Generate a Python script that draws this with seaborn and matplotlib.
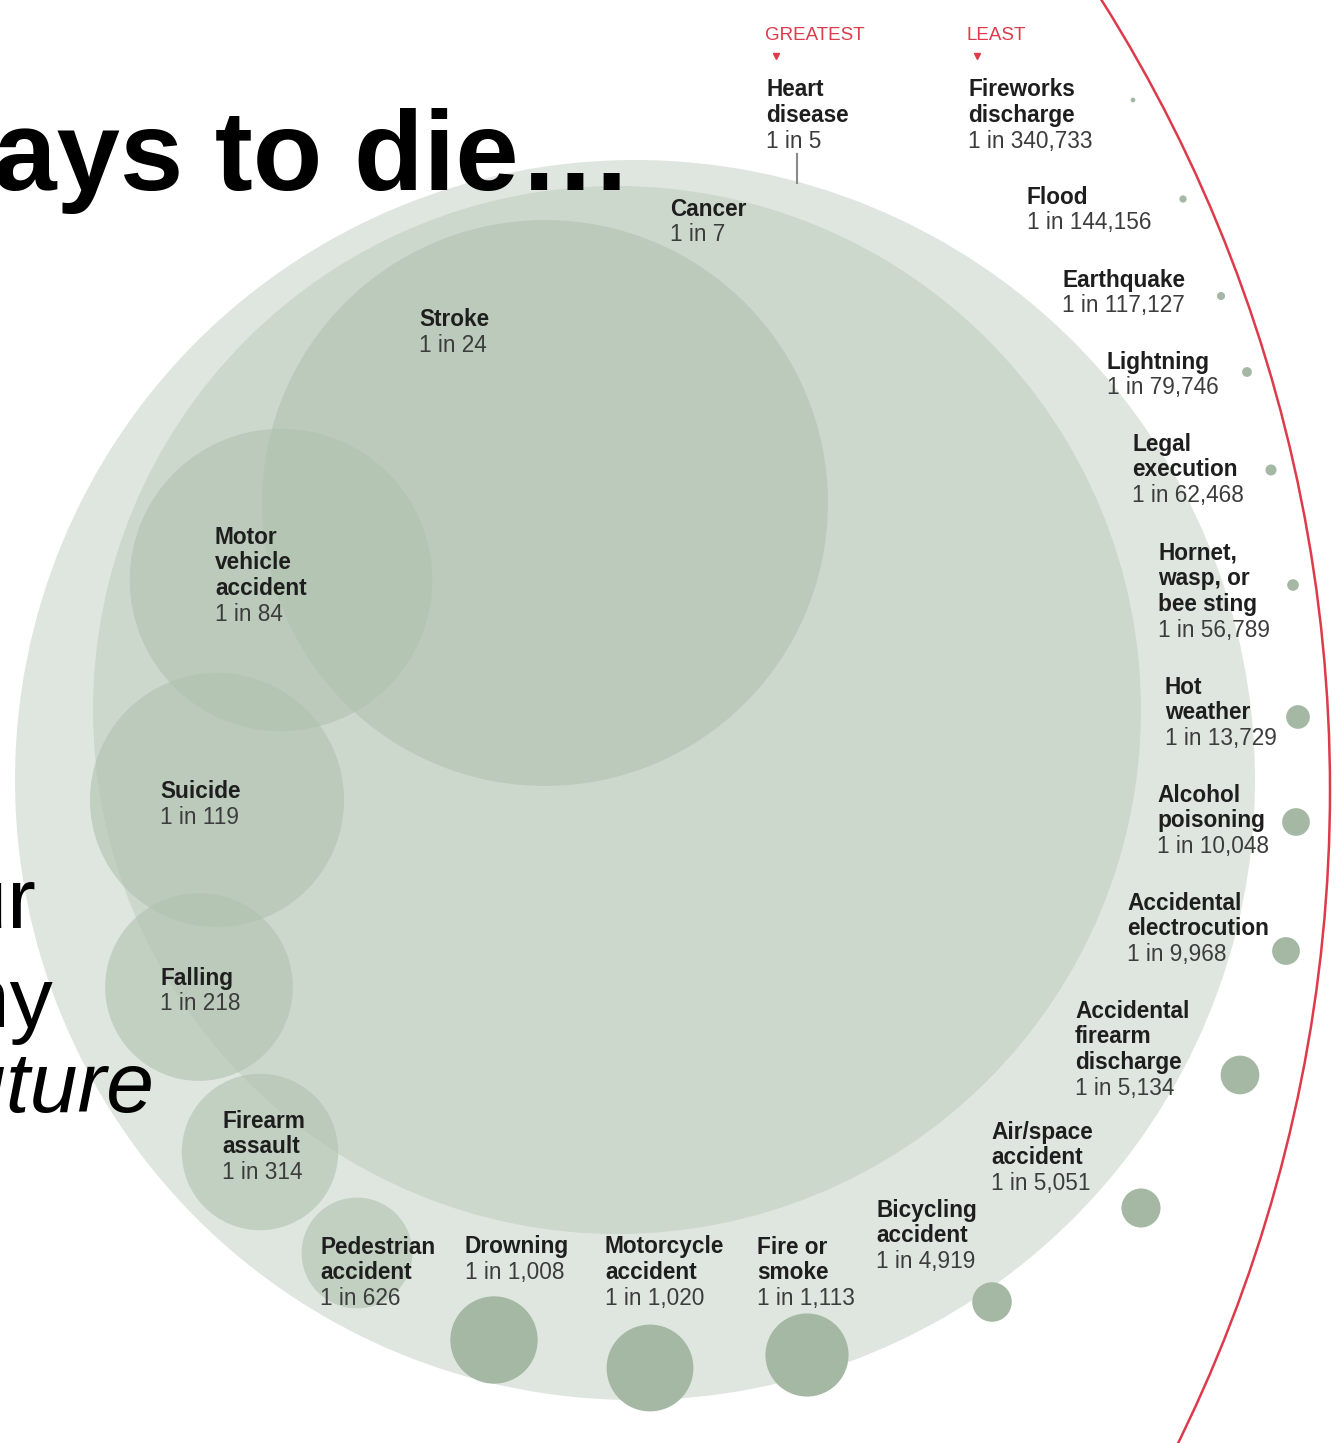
import numpy as np
import pandas as pd
import matplotlib.pyplot as plt
import seaborn as sns
from matplotlib.patches import Circle

# odds of dying from each cause ("1 in N")
names = ["Heart\ndisease", "Cancer", "Stroke", "Motor\nvehicle\naccident", "Suicide", "Falling",
         "Firearm\nassault", "Pedestrian\naccident", "Drowning", "Motorcycle\naccident",
         "Fire or\nsmoke", "Bicycling\naccident", "Air/space\naccident",
         "Accidental\nfirearm\ndischarge", "Accidental\nelectrocution", "Alcohol\npoisoning",
         "Hot\nweather", "Hornet,\nwasp, or\nbee sting", "Legal\nexecution", "Lightning",
         "Earthquake", "Flood", "Fireworks\ndischarge"]
odds = [5, 7, 24, 84, 119, 218, 314, 626, 1008, 1020, 1113, 4919, 5051, 5134,
        9968, 10048, 13729, 56789, 62468, 79746, 117127, 144156, 340733]
tier = ["base"] * 2 + ["mid"] * 6 + ["dot"] * 15

# layout (pixel positions of the bubbles and their labels)
cx = [635, 617, 545, 281, 217, 199, 260, 357, 494, 650, 807, 992, 1141, 1240,
      1286, 1296, 1298, 1293, 1271, 1247, 1221, 1183, 1133]
cy = [780, 710, 503, 580, 800, 987, 1152, 1253, 1340, 1368, 1355, 1302, 1208, 1075,
      951, 822, 717, 585, 470, 372, 296, 199, 100]
lab_x = [766, 670, 419, 215, 160, 160, 222, 320, 465, 605, 757, 876, 991, 1075,
         1127, 1157, 1165, 1158, 1132, 1107, 1062, 1027, 968]
lab_y = [90, 209, 320, 537, 792, 978, 1121, 1247, 1247, 1247, 1247, 1210, 1132, 1011,
         903, 795, 687, 553, 444, 362, 280, 197, 90]

W, H, DPI = 1340, 1443, 100
PT = 72 / DPI
R_TOP = 620  # pixel radius of the 1-in-5 bubble

df = pd.DataFrame({"name": names, "odds": odds, "tier": tier, "x": cx, "y": cy})
df["risk"] = 1 / df["odds"]

plt.rcParams["font.family"] = ["Liberation Sans", "DejaVu Sans"]
fig = plt.figure(figsize=(W / DPI, H / DPI), dpi=DPI)
ax = fig.add_axes([0, 0, 1, 1])
ax.set_xlim(0, W)
ax.set_ylim(H, 0)
ax.axis("off")

# bubble area proportional to risk
size_kw = dict(size="risk", size_norm=(0, 1 / 5), sizes=(0, (2 * R_TOP * PT) ** 2),
               linewidth=0, edgecolor="none", legend=False, ax=ax)

base = df[df.tier == "base"]
sns.scatterplot(data=base, x="x", y="y", hue="name",
                palette={names[0]: "#dfe6df", names[1]: "#cdd8cd"}, **size_kw)
sns.scatterplot(data=df[df.tier == "mid"], x="x", y="y", color="#b0c2b0", alpha=0.6, **size_kw)
sns.scatterplot(data=df[df.tier == "dot"], x="x", y="y", color="#a4b8a4", **size_kw)

# labels
step = 25.7
for i, row in df.iterrows():
    lines = row["name"].split("\n")
    for k, ln in enumerate(lines):
        ax.text(lab_x[i], lab_y[i] + k * step, ln, fontsize=16.3, fontweight="bold",
                color="#1e1e1e", va="center", ha="left", zorder=5)
    ax.text(lab_x[i], lab_y[i] + len(lines) * step, f"1 in {row['odds']:,}", fontsize=16.3,
            color="#3c3c3c", va="center", ha="left", zorder=5)

# heart disease pointer
ax.plot([797, 797], [154, 183], color="#8a8a8a", lw=1.5, zorder=4)

# greatest / least markers
red = "#dd3b4b"
ax.text(765, 35, "GREATEST", fontsize=13.5, color=red, va="center", ha="left")
ax.text(966, 35, "LEAST", fontsize=13.5, color=red, va="center", ha="left")
ax.plot([776, 977], [56, 56], "v", color=red, markersize=5, linestyle="none")

# red boundary arc
ax.add_patch(Circle((-150, 790), 1480, fill=False, ec=red, lw=1.8, zorder=3))

# title and side text (cut off at the left edge, as in the source slide)
ax.text(633, 190, "Ways to die\u2026", fontsize=82, fontweight="bold", color="black",
        ha="right", va="baseline", zorder=6)
ax.text(36, 928, "your", fontsize=62, color="black", ha="right", va="baseline", zorder=6)
ax.text(53, 1027, "many", fontsize=62, color="black", ha="right", va="baseline", zorder=6)
ax.text(154, 1112, "future", fontsize=62, style="italic", color="black",
        ha="right", va="baseline", zorder=6)

fig.savefig("out.png", dpi=DPI, facecolor="white")
